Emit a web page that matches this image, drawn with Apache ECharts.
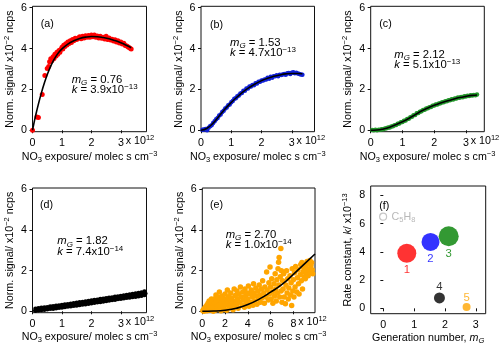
<!DOCTYPE html>
<html>
<head>
<meta charset="utf-8">
<script src="https://cdn.jsdelivr.net/npm/echarts@6/dist/echarts.min.js"></script>
<style>
  html, body { margin: 0; padding: 0; background: #fff; }
  #chart { width: 500px; height: 348px; }
</style>
</head>
<body>
<div id="chart"></div>
<script>
// exposure in 1e12 molec s cm-3, signal in 1e-2 ncps
var redPts = [[0.0,0.0],[0.15,0.65],[0.2,0.63],[0.33,1.75],[0.42,2.68],[0.5,3.02],[0.55,3.12],[0.58,3.35],[0.62,3.5],[0.66,3.42],[0.7,3.6],[0.73,3.52],[0.76,3.72],[0.8,3.64],[0.83,3.82],[0.86,3.72],[0.9,3.9],[0.93,3.82],[0.96,3.96],[1.0,4.06],[1.03,3.98],[1.06,4.16],[1.1,4.1],[1.13,4.24],[1.17,4.18],[1.2,4.32],[1.24,4.25],[1.28,4.38],[1.32,4.3],[1.36,4.44],[1.4,4.38],[1.45,4.5],[1.5,4.44],[1.55,4.52],[1.6,4.58],[1.65,4.48],[1.7,4.6],[1.75,4.52],[1.8,4.63],[1.85,4.55],[1.9,4.64],[1.95,4.56],[2.0,4.66],[2.05,4.58],[2.1,4.67],[2.15,4.55],[2.2,4.62],[2.25,4.52],[2.3,4.6],[2.35,4.5],[2.4,4.56],[2.45,4.47],[2.5,4.6],[2.55,4.44],[2.6,4.52],[2.65,4.42],[2.7,4.46],[2.75,4.37],[2.8,4.43],[2.85,4.32],[2.9,4.38],[2.95,4.27],[3.0,4.32],[3.05,4.22],[3.1,4.26],[3.15,4.15],[3.2,4.13],[3.25,4.08],[3.3,4.03],[3.35,3.98]];
var redFit = [[0,0],[0.05,0.35],[0.1,0.68],[0.2,1.28],[0.3,1.82],[0.4,2.3],[0.5,2.72],[0.6,3.08],[0.7,3.38],[0.8,3.63],[0.9,3.83],[1.0,3.99],[1.2,4.22],[1.4,4.38],[1.6,4.49],[1.8,4.56],[2.0,4.59],[2.2,4.58],[2.4,4.54],[2.6,4.48],[2.8,4.39],[3.0,4.28],[3.2,4.15],[3.35,4.04]];

var bluePts = [[0.05,0.02],[0.1,0.04],[0.15,0.06],[0.2,0.0],[0.25,0.12],[0.3,0.2],[0.35,0.24],[0.4,0.36],[0.45,0.44],[0.5,0.54],[0.55,0.6],[0.6,0.72],[0.65,0.77],[0.7,0.9],[0.75,0.95],[0.8,1.07],[0.85,1.11],[0.9,1.22],[0.95,1.26],[1.0,1.37],[1.05,1.43],[1.1,1.54],[1.15,1.57],[1.2,1.67],[1.25,1.7],[1.3,1.8],[1.35,1.82],[1.4,1.93],[1.45,1.94],[1.5,2.05],[1.55,2.04],[1.6,2.14],[1.65,2.14],[1.7,2.22],[1.75,2.21],[1.8,2.3],[1.85,2.29],[1.9,2.38],[1.95,2.37],[2.0,2.44],[2.05,2.44],[2.1,2.49],[2.15,2.49],[2.2,2.57],[2.25,2.52],[2.3,2.62],[2.35,2.57],[2.4,2.65],[2.45,2.64],[2.5,2.69],[2.55,2.65],[2.6,2.72],[2.65,2.71],[2.7,2.73],[2.75,2.76],[2.8,2.72],[2.85,2.79],[2.9,2.8],[2.95,2.76],[3.0,2.82],[3.05,2.84],[3.1,2.79],[3.15,2.82],[3.2,2.78],[3.25,2.76],[3.3,2.73],[3.35,2.72]];
var blueFit = [[0,0],[0.2,0.1],[0.4,0.35],[0.6,0.7],[0.8,1.05],[1.0,1.36],[1.2,1.64],[1.4,1.89],[1.6,2.1],[1.8,2.28],[2.0,2.43],[2.2,2.55],[2.4,2.64],[2.6,2.71],[2.8,2.76],[3.0,2.78],[3.2,2.78],[3.35,2.77]];

var greenPts = [[0.05,0.01],[0.1,0.0],[0.15,0.02],[0.2,0.0],[0.25,0.03],[0.3,0.02],[0.35,0.05],[0.4,0.05],[0.45,0.09],[0.5,0.1],[0.55,0.13],[0.6,0.14],[0.65,0.19],[0.7,0.2],[0.75,0.25],[0.8,0.26],[0.85,0.32],[0.9,0.33],[0.95,0.39],[1.0,0.4],[1.05,0.47],[1.1,0.48],[1.15,0.55],[1.2,0.57],[1.25,0.64],[1.3,0.66],[1.35,0.74],[1.4,0.75],[1.45,0.83],[1.5,0.84],[1.55,0.91],[1.6,0.93],[1.65,0.99],[1.7,1.0],[1.75,1.06],[1.8,1.08],[1.85,1.13],[1.9,1.14],[1.95,1.2],[2.0,1.21],[2.05,1.26],[2.1,1.26],[2.15,1.31],[2.2,1.32],[2.25,1.37],[2.3,1.37],[2.35,1.42],[2.4,1.42],[2.45,1.47],[2.5,1.47],[2.55,1.52],[2.6,1.51],[2.65,1.56],[2.7,1.55],[2.75,1.6],[2.8,1.59],[2.85,1.63],[2.9,1.62],[2.95,1.66],[3.0,1.65],[3.05,1.69],[3.1,1.68],[3.15,1.71],[3.2,1.7],[3.25,1.73],[3.3,1.72],[3.35,1.75]];
var greenFit = [[0,0],[0.2,0.01],[0.4,0.06],[0.6,0.15],[0.8,0.28],[1.0,0.42],[1.2,0.58],[1.4,0.76],[1.6,0.94],[1.8,1.09],[2.0,1.22],[2.2,1.33],[2.4,1.43],[2.6,1.52],[2.8,1.6],[3.0,1.66],[3.2,1.71],[3.35,1.73]];

var blackPts = [[0.1,0.03],[0.1,0.12],[0.15,0.08],[0.2,0.05],[0.2,0.15],[0.25,0.1],[0.3,0.06],[0.3,0.17],[0.35,0.12],[0.4,0.08],[0.4,0.19],[0.45,0.14],[0.5,0.1],[0.5,0.2],[0.55,0.15],[0.6,0.12],[0.6,0.23],[0.65,0.17],[0.7,0.13],[0.7,0.25],[0.75,0.19],[0.8,0.15],[0.8,0.27],[0.85,0.21],[0.9,0.17],[0.9,0.29],[0.95,0.23],[1.0,0.19],[1.0,0.31],[1.05,0.25],[1.1,0.21],[1.1,0.33],[1.15,0.27],[1.2,0.23],[1.2,0.35],[1.25,0.29],[1.3,0.25],[1.3,0.37],[1.35,0.31],[1.4,0.27],[1.4,0.39],[1.45,0.33],[1.5,0.29],[1.5,0.42],[1.55,0.35],[1.6,0.31],[1.6,0.44],[1.65,0.37],[1.7,0.33],[1.7,0.46],[1.75,0.4],[1.8,0.35],[1.8,0.48],[1.85,0.42],[1.9,0.37],[1.9,0.5],[1.95,0.44],[2.0,0.4],[2.0,0.53],[2.05,0.46],[2.1,0.42],[2.1,0.55],[2.15,0.48],[2.2,0.44],[2.2,0.57],[2.25,0.5],[2.3,0.46],[2.3,0.6],[2.35,0.53],[2.4,0.48],[2.4,0.62],[2.45,0.55],[2.5,0.5],[2.5,0.64],[2.55,0.57],[2.6,0.53],[2.6,0.66],[2.65,0.6],[2.7,0.55],[2.7,0.68],[2.75,0.62],[2.8,0.57],[2.8,0.71],[2.85,0.64],[2.9,0.6],[2.9,0.73],[2.95,0.66],[3.0,0.62],[3.0,0.75],[3.05,0.68],[3.1,0.64],[3.1,0.78],[3.15,0.7],[3.2,0.66],[3.2,0.8],[3.25,0.73],[3.3,0.68],[3.3,0.82],[3.35,0.75],[3.4,0.7],[3.4,0.85],[3.45,0.77],[3.5,0.72],[3.5,0.87],[3.55,0.8],[3.6,0.74],[3.6,0.9],[3.65,0.82],[3.7,0.76],[3.7,0.93],[3.75,0.85],[3.8,0.8],[3.8,0.97],[3.83,0.88]];
var blackFit = [[0,0.02],[1,0.25],[2,0.47],[3,0.68],[3.85,0.88]];

var orangePts = [[0.05,0.02],[0.1,0.08],[0.15,0.0],[0.2,0.15],[0.25,0.05],[0.3,0.22],[0.35,0.1],[0.4,0.3],[0.42,0.02],[0.45,0.18],[0.5,0.4],[0.52,0.08],[0.55,0.25],[0.6,0.5],[0.62,0.12],[0.65,0.33],[0.7,0.05],[0.72,0.45],[0.75,0.2],[0.8,0.6],[0.82,0.3],[0.85,0.1],[0.88,0.42],[0.9,0.22],[0.95,0.55],[0.97,0.0],[1.0,0.35],
  [1.05,0.15],[1.1,0.62],[1.12,0.4],[1.15,0.05],[1.2,0.8],[1.25,0.28],[1.3,0.5],[1.35,0.12],[1.4,0.7],[1.45,0.35],[1.5,0.95],[1.55,0.2],[1.6,0.55],[1.65,0.02],[1.7,0.42],[1.75,0.75],[1.8,0.25],[1.85,0.6],[1.9,0.1],[1.95,0.48],
  [2.0,0.85],[2.05,0.3],[2.1,0.6],[2.15,0.05],[2.2,1.05],[2.25,0.4],[2.3,0.72],[2.4,0.18],[2.45,0.55],[2.5,0.9],[2.55,0.32],[2.6,0.65],[2.7,0.08],[2.75,0.45],[2.8,1.1],[2.85,0.25],[2.9,0.78],[2.95,0.5],
  [3.0,0.35],[3.05,1.0],[3.1,0.6],[3.15,0.15],[3.2,0.85],[3.3,0.45],[3.35,1.2],[3.4,0.7],[3.5,0.3],[3.55,0.95],[3.6,0.55],[3.7,0.2],[3.75,1.1],[3.8,0.75],[3.85,0.4],[3.95,0.9],
  [4.0,0.6],[4.05,1.25],[4.1,0.25],[4.2,0.85],[4.25,0.45],[4.3,1.05],[4.4,0.7],[4.45,0.3],[4.5,1.35],[4.55,0.9],[4.6,0.5],[4.7,1.15],[4.75,0.75],[4.8,0.35],[4.9,1.0],[4.95,0.6],
  [5.0,1.3],[5.05,0.8],[5.1,0.45],[5.2,1.1],[5.25,0.65],[5.3,1.5],[5.4,0.9],[5.45,0.4],[5.5,1.2],[5.6,0.7],[5.65,1.93],[5.7,1.05],[5.8,0.55],[5.85,1.4],[5.9,0.85],[5.95,2.18],
  [6.0,1.2],[6.05,0.6],[6.1,1.6],[6.15,0.95],[6.2,0.4],[6.3,1.35],[6.35,0.75],[6.4,1.85],[6.45,1.1],[6.5,0.5],[6.55,1.55],[6.6,0.9],[6.65,2.1],[6.7,2.42],[6.72,1.3],[6.75,2.65],[6.8,0.7],[6.85,1.7],[6.9,3.09],[6.92,1.0],[6.95,2.0],
  [7.0,0.45],[7.05,1.5],[7.1,1.1],[7.15,1.85],[7.2,0.7],[7.3,0.37],[7.35,1.3],[7.4,2.0],[7.45,0.9],[7.5,1.6],[7.55,0.6],[7.6,1.15],[7.7,1.75],[7.75,0.8],[7.8,1.4],[7.85,0.28],[7.9,2.1],[7.95,1.0],
  [8.0,1.55],[8.05,0.7],[8.1,1.9],[8.15,1.2],[8.2,2.2],[8.3,0.95],[8.35,1.65],[8.4,2.05],[8.45,1.35],[8.5,0.85],[8.6,1.8],[8.65,2.3],[8.7,1.5],[8.75,2.4],[8.8,1.1],[8.85,1.95],[8.9,2.15],[8.95,1.7],
  [9.0,2.0],[9.05,1.6],[9.1,2.3],[9.15,1.85],[9.2,2.45],[9.25,2.1],[9.3,1.75],[9.35,2.35],[9.4,2.0],[9.45,2.5],[9.5,1.9],[9.55,2.25],[9.6,2.4],[9.65,2.05],[9.7,1.85]];
var orangeFit = [[0,0],[1,0.01],[2,0.05],[3,0.15],[4,0.33],[5,0.6],[6,0.94],[7,1.32],[8,1.82],[9,2.35],[9.9,2.82]];

// panel (f): generation number vs rate constant (1e-13)
var genNum = [0.76, 1.53, 2.12, 1.82, 2.70];
var rateK = [3.9, 4.7, 5.1, 0.74, 0.10];
var genLabels = ['1', '2', '3', '4', '5'];

var xTicksA = [0, 1, 2, 3];
var xTicksE = [0, 2, 4, 6, 8];
var yTicks = [0, 2, 4, 6];
var yTicksF = [0, 2, 4, 6, 8];

var FF = '"Liberation Sans", Arial, sans-serif';
var FS = 10.7;   // ticks, axis names, panel letters
var FA = 11.3;   // fit annotations
function richSet(small) {
  return {
    it: { fontStyle: 'italic', fontFamily: FF },
    sub: { fontSize: small, fontFamily: FF, verticalAlign: 'bottom', lineHeight: 9 },
    subi: { fontSize: small, fontFamily: FF, fontStyle: 'italic', verticalAlign: 'bottom', lineHeight: 9 },
    sup: { fontSize: small, fontFamily: FF, verticalAlign: 'top', lineHeight: 9 }
  };
}
var richAxis = richSet(7.5);
var richNote = richSet(8);
richNote.it.fontSize = FA;
richAxis.it.fontSize = FS;

var grids = [
  { left: 32.5, top: 6.3, width: 114, height: 125.4 },
  { left: 201, top: 6.3, width: 113.5, height: 125.4 },
  { left: 370.7, top: 6.3, width: 113.6, height: 125.4 },
  { left: 32.5, top: 188, width: 114, height: 124.7 },
  { left: 202.3, top: 188, width: 112.7, height: 124.7 },
  { left: 370.7, top: 186, width: 115, height: 127.7 }
].map(function (g) {
  return Object.assign({ show: true, borderColor: '#111', borderWidth: 1, backgroundColor: 'transparent' }, g);
});

var nameX = 'NO{sub|3} exposure/ molec s cm{sup|−3}';
var nameY = 'Norm. signal/ x10{sup|−2} ncps';

function axis(i, min, max, ticks, name, gap) {
  return {
    type: 'value', gridIndex: i, min: min, max: max,
    axisLine: { show: false },
    axisTick: { show: true, length: 3, customValues: ticks, lineStyle: { color: '#111' } },
    axisLabel: { customValues: ticks, margin: 5.5, fontSize: FS, color: '#000', fontFamily: FF },
    splitLine: { show: false },
    name: name, nameLocation: 'middle', nameGap: gap,
    nameTextStyle: { fontSize: FS, color: '#000', fontFamily: FF, lineHeight: 14, rich: richAxis }
  };
}

var xAxes = [
  axis(0, 0, 3.87, xTicksA, nameX, 18),
  axis(1, 0, 3.75, xTicksA, nameX, 18),
  axis(2, 0, 3.58, xTicksA, nameX, 18),
  axis(3, 0, 3.87, xTicksA, nameX, 17.5),
  axis(4, 0, 9.9, xTicksE, nameX, 17.5),
  axis(5, -0.41, 3.32, xTicksA, 'Generation number, {it|m}{subi|G}', 16)
];
var yAxes = [
  axis(0, -0.07, 6.07, yTicks, nameY, 14),
  axis(1, -0.07, 6.07, yTicks, nameY, 14),
  axis(2, -0.07, 6.07, yTicks, nameY, 14),
  axis(3, -0.07, 6.07, yTicks, nameY, 14),
  axis(4, -0.07, 6.07, yTicks, nameY, 14),
  axis(5, -0.38, 8.66, yTicksF, 'Rate constant, {it|k}/ x10{sup|−13}', 15)
];

function pts(i, data, color, size) {
  return { type: 'scatter', xAxisIndex: i, yAxisIndex: i, data: data, symbolSize: size,
    itemStyle: { color: color, opacity: 1 }, silent: true, animation: false };
}
function fit(i, data) {
  return { type: 'line', xAxisIndex: i, yAxisIndex: i, data: data, smooth: true, showSymbol: false,
    lineStyle: { color: '#000', width: 1.6 }, silent: true, animation: false, z: 5 };
}

var fColors = ['#ff0000', '#0000ff', '#008000', '#000000', '#ffa500'];
var fSizes = [19, 18, 20, 11, 8];
var fData = genNum.map(function (x, j) {
  var below = j < 3;
  return {
    value: [x, rateK[j]], symbolSize: fSizes[j],
    itemStyle: { color: fColors[j] },
    label: { show: true, formatter: genLabels[j], position: below ? 'bottom' : 'top',
      distance: below ? 2 : 0, color: fColors[j], fontSize: 11.3, fontFamily: FF }
  };
});

function txt(x, y, text, size, rich) {
  return { type: 'text', x: x, y: y, silent: true,
    style: { text: text, fill: '#000', fontSize: size, fontFamily: FF, lineHeight: 14,
      verticalAlign: 'middle', rich: rich } };
}
function note(x, y, text) { return txt(x, y, text, FA, richNote); }
function plain(x, y, text) { return txt(x, y, text, FS, richAxis); }

var chart = echarts.init(document.getElementById('chart'));
chart.setOption({
  animation: false,
  grid: grids,
  xAxis: xAxes,
  yAxis: yAxes,
  legend: {
    data: [{ name: 'C5H8', icon: 'circle', itemStyle: { color: '#fff', borderColor: '#b8b8b8', borderWidth: 1.2 } }],
    left: 379, top: 209.7, itemWidth: 7, itemHeight: 7, selectedMode: false, padding: 0,
    formatter: function () { return 'C{sub|5}H{sub|8}'; },
    textStyle: { color: '#b8b8b8', fontSize: FS, fontFamily: FF, lineHeight: 14,
      rich: { sub: { fontSize: 7.5, fontFamily: FF, color: '#b8b8b8', verticalAlign: 'bottom', lineHeight: 9 } } }
  },
  series: [
    pts(0, redPts, '#ff0000', 5), fit(0, redFit),
    pts(1, bluePts, '#1020d8', 4.5), fit(1, blueFit),
    pts(2, greenPts, '#22962a', 4.5), fit(2, greenFit),
    pts(3, blackPts, '#000', 4.5), fit(3, blackFit),
    pts(4, orangePts, '#ffa500', 5.5), fit(4, orangeFit),
    { type: 'scatter', xAxisIndex: 5, yAxisIndex: 5, data: fData, silent: true, animation: false },
    { type: 'scatter', name: 'C5H8', xAxisIndex: 5, yAxisIndex: 5, data: [], itemStyle: { color: '#bbb' } }
  ],
  graphic: [
    plain(40.7, 24.3, '(a)'),
    note(71.7, 80, '{it|m}{subi|G} = 0.76'),
    note(71.7, 89.6, '{it|k} = 3.9x10{sup|−13}'),
    plain(125.7, 140.7, 'x 10{sup|12}'),
    plain(210, 25, '(b)'),
    note(230, 42.7, '{it|m}{subi|G} = 1.53'),
    note(230, 52.5, '{it|k} = 4.7x10{sup|−13}'),
    plain(296.6, 140.7, 'x 10{sup|12}'),
    plain(379.3, 24.3, '(c)'),
    note(394.3, 54.5, '{it|m}{subi|G} = 2.12'),
    note(394.3, 64.8, '{it|k} = 5.1x10{sup|−13}'),
    plain(470.7, 140.7, 'x 10{sup|12}'),
    plain(40, 205.3, '(d)'),
    note(57.3, 241.3, '{it|m}{subi|G} = 1.82'),
    note(57.3, 251.5, '{it|k} = 7.4x10{sup|−14}'),
    plain(125.7, 321.7, 'x 10{sup|12}'),
    plain(210, 204.7, '(e)'),
    note(225.7, 234.7, '{it|m}{subi|G} = 2.70'),
    note(225.7, 244.7, '{it|k} = 1.0x10{sup|−14}'),
    plain(298.2, 321.7, 'x 10{sup|12}'),
    plain(379.3, 205.7, '(f)')
  ]
});
</script>
</body>
</html>
